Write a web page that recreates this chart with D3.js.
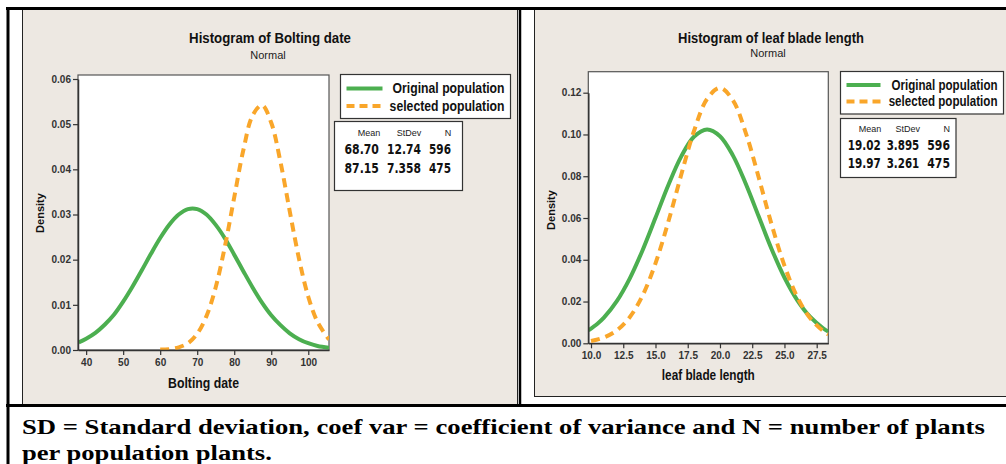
<!DOCTYPE html>
<html><head><meta charset="utf-8">
<script src="https://cdn.jsdelivr.net/npm/d3@7/dist/d3.min.js"></script>
<style>
html,body{margin:0;padding:0;background:#fff;}
svg{display:block;}
text{font-family:"Liberation Sans",Arial,sans-serif;}
</style></head>
<body>
<svg id="chart" width="1006" height="464"></svg>
<script>
// ---------- data ----------
const seriesNames = ["Original population", "selected population"];

// Left chart: Bolting date (density curves)
const boltX = [38,40,42.5,45,47.5,50,52.5,55,57.5,60,62.5,65,67.5,70,72.5,75,77.5,80,82.5,85,87.5,90,92.5,95,97.5,100,102.5,105.6];
const boltOriginal = [0.0017,0.0025,0.0038,0.0056,0.0078,0.0107,0.0140,0.0176,0.0213,0.0248,0.0278,0.0300,0.0312,0.0312,0.0300,0.0277,0.0247,0.0211,0.0174,0.0138,0.0105,0.0077,0.0055,0.0037,0.0024,0.0015,0.0009,0.0005];
const boltSelX = [60,62.5,65,67.5,70,72.5,75,77.5,80,82.5,85,87.5,90,92.5,95,97.5,100,102.5,105.6];
const boltSelected = [0.0001,0.0002,0.0006,0.0015,0.0036,0.0075,0.0139,0.0230,0.0338,0.0444,0.0520,0.0542,0.0503,0.0416,0.0307,0.0202,0.0118,0.0062,0.0023];
const boltXTicks = [40,50,60,70,80,90,100];
const boltYTicks = [0,0.01,0.02,0.03,0.04,0.05,0.06];
const boltStats = [["68.70","12.74","596"],["87.15","7.358","475"]];

// Right chart: leaf blade length
const leafX = [9.8,10.5,11,12,13,14,15,16,17,18,19,20,21,22,23,24,25,26,27,28,28.4];
const leafOriginal = [0.0062,0.0094,0.0123,0.0202,0.0310,0.0446,0.0601,0.0758,0.0895,0.0990,0.1024,0.0992,0.0900,0.0764,0.0608,0.0452,0.0315,0.0206,0.0126,0.0072,0.0056];
const leafSelX = [10,11,12,13,14,15,16,17,18,19,20,21,22,23,24,25,26,27,28,28.4];
const leafSelected = [0.0011,0.0028,0.0062,0.0125,0.0229,0.0383,0.0583,0.0808,0.1019,0.1170,0.1223,0.1164,0.1008,0.0795,0.0570,0.0372,0.0221,0.0120,0.0059,0.0043];
const leafXTicks = [10,12.5,15,17.5,20,22.5,25,27.5];
const leafYTicks = [0,0.02,0.04,0.06,0.08,0.10,0.12];
const leafStats = [["19.02","3.895","596"],["19.97","3.261","475"]];

const statHeaders = ["Mean","StDev","N"];
const footnote1 = "SD = Standard deviation, coef var = coefficient of variance and N = number of plants";
const footnote2 = "per population plants.";

// ---------- styles ----------
const GREEN = "#4caf50", ORANGE = "#f9a62a", BEIGE = "#ede8e2";
const svg = d3.select("#chart");

// place a text at (x,y) and squeeze it horizontally to a target width
function fitText(parent, str, x, y, target, anchor, styler){
  const t = parent.append("text").attr("x",0).attr("y",0).attr("text-anchor",anchor).call(styler).text(str);
  const w = t.node().getComputedTextLength();
  const k = w > 0 ? target / w : 1;
  t.attr("transform",`translate(${x},${y}) scale(${k},1)`);
  return t;
}

// table frame
svg.append("rect").attr("x",0).attr("y",0).attr("width",1006).attr("height",464).attr("fill","#fff");
svg.append("rect").attr("x",22.5).attr("y",9.5).attr("width",495).attr("height",396).attr("fill",BEIGE).attr("stroke","#222").attr("stroke-width",1);
svg.append("rect").attr("x",534.5).attr("y",9.5).attr("width",490).attr("height",387).attr("fill",BEIGE).attr("stroke","#222").attr("stroke-width",1);
const border = svg.append("g").attr("stroke","#000");
border.append("line").attr("x1",6).attr("x2",1006).attr("y1",8.5).attr("y2",8.5).attr("stroke-width",3);
border.append("line").attr("x1",8).attr("x2",8).attr("y1",7).attr("y2",464).attr("stroke-width",3);
border.append("line").attr("x1",520).attr("x2",520).attr("y1",7).attr("y2",406).attr("stroke-width",2.5);
border.append("line").attr("x1",6).attr("x2",1006).attr("y1",405.5).attr("y2",405.5).attr("stroke-width",3);

// footnote
const fnStyle = t => t.style("font-family","'Liberation Serif','Times New Roman',serif").style("font-weight","bold").style("font-size","22px").attr("fill","#000");
fitText(svg, footnote1, 22, 434, 963, "start", fnStyle);
fitText(svg, footnote2, 22, 460, 250, "start", fnStyle);

function drawChart(cfg){
  const g = svg.append("g");
  const x = d3.scaleLinear().domain(cfg.xDomain).range([cfg.left, cfg.right]);
  const y = d3.scaleLinear().domain(cfg.yDomain).range([cfg.bottom, cfg.top0]);
  // plot frame
  g.append("rect").attr("x",cfg.left).attr("y",cfg.frameTop).attr("width",cfg.right-cfg.left).attr("height",cfg.bottom-cfg.frameTop)
    .attr("fill","#fff").attr("stroke","#555").attr("stroke-width",1.2);
  const clipId = "clip"+cfg.id;
  g.append("clipPath").attr("id",clipId).append("rect").attr("x",cfg.left).attr("y",cfg.frameTop).attr("width",cfg.right-cfg.left).attr("height",cfg.bottom-cfg.frameTop);
  const line = d3.line().x(d=>x(d[0])).y(d=>y(d[1])).curve(d3.curveCatmullRom.alpha(0.5));
  const cg = g.append("g").attr("clip-path",`url(#${clipId})`);
  cg.append("path").datum(cfg.xs.map((v,i)=>[v,cfg.orig[i]])).attr("d",line).attr("fill","none")
    .attr("stroke",GREEN).attr("stroke-width",4);
  cg.append("path").datum(cfg.selXs.map((v,i)=>[v,cfg.sel[i]])).attr("d",line).attr("fill","none")
    .attr("stroke",ORANGE).attr("stroke-width",4).attr("stroke-dasharray","9,6");
  // axes
  const ya = d3.axisLeft(y).tickValues(cfg.yTicks).tickFormat(d3.format(".2f")).tickSize(5).tickSizeOuter(0);
  const yg = g.append("g").attr("transform",`translate(${cfg.left},0)`).call(ya);
  const xa = d3.axisBottom(x).tickValues(cfg.xTicks).tickFormat(cfg.xFormat).tickSize(5).tickSizeOuter(0);
  const xg = g.append("g").attr("transform",`translate(0,${cfg.bottom})`).call(xa);
  [yg,xg].forEach(a=>{
    a.select(".domain").attr("stroke","#333").attr("stroke-width",1.5);
    a.selectAll(".tick line").attr("stroke","#333").attr("stroke-width",1.2);
    a.selectAll(".tick text").attr("fill","#333").style("font-size","10px").style("font-family","'Liberation Sans Narrow','Liberation Sans',sans-serif").style("font-weight","bold");
  });
  yg.selectAll(".tick text").attr("x",-7);
  xg.selectAll(".tick text").attr("y",9);
  // titles
  const bold = s => t => t.style("font-weight","bold").style("font-size",s).attr("fill","#111");
  fitText(g, cfg.title, cfg.titleX, 43, cfg.titleW, "middle", bold("15px"));
  g.append("text").attr("x",cfg.subX).attr("y",cfg.subY).attr("text-anchor","middle")
    .style("font-size","11px").attr("fill","#222").text("Normal");
  // axis labels
  fitText(g, cfg.xLabel, (cfg.left+cfg.right)/2, cfg.xLabelY, cfg.xLabelW, "middle", bold("14px"));
  g.append("text").attr("transform",`translate(${cfg.yLabelX},${cfg.yLabelY}) rotate(-90)`).attr("text-anchor","middle")
    .style("font-weight","bold").style("font-size","11px").attr("fill","#111").text("Density");
  // legend
  const L = cfg.legend;
  g.append("rect").attr("x",L.x).attr("y",L.y).attr("width",L.w).attr("height",L.h).attr("fill","#fff").attr("stroke","#333").attr("stroke-width",1.2);
  const colors = [GREEN, ORANGE], dashes = [null,"8,5"];
  seriesNames.forEach((n,i)=>{
    const yy = L.y + L.row0 + i*L.dy;
    g.append("line").attr("x1",L.x+6).attr("x2",L.x+6+L.lineW).attr("y1",yy).attr("y2",yy)
      .attr("stroke",colors[i]).attr("stroke-width",4).attr("stroke-dasharray",dashes[i]);
    fitText(g, n, L.x+L.w-6, yy+4.5, L.tw[i], "end", bold("14px"));
  });
  // stats box
  const S = cfg.stats;
  g.append("rect").attr("x",S.x).attr("y",S.y).attr("width",S.w).attr("height",S.h).attr("fill","#fff").attr("stroke","#333").attr("stroke-width",1.2);
  statHeaders.forEach((h,j)=>{
    g.append("text").attr("x",S.hcols[j]).attr("y",S.y+S.hy).attr("text-anchor","middle")
      .style("font-size","9px").attr("fill","#222").text(h);
  });
  const numStyle = t => t.style("font-family","'DejaVu Sans',Verdana,sans-serif").style("font-size","14px").style("font-weight","bold").attr("fill","#111");
  cfg.statRows.forEach((r,i)=>{
    r.forEach((v,j)=>{
      fitText(g, v, S.cols[j], S.y+S.r0+i*S.dy, S.widths[j], "start", numStyle);
    });
  });
}

drawChart({
  id:"L", xDomain:[37.8,105.6], yDomain:[0,0.06], left:78, right:329, bottom:350, top0:79, frameTop:75,
  xs:boltX, orig:boltOriginal, selXs:boltSelX, sel:boltSelected,
  xTicks:boltXTicks, yTicks:boltYTicks, xFormat:d3.format("d"),
  title:"Histogram of Bolting date", titleX:270, titleW:162, subX:268, subY:59,
  xLabel:"Bolting date", xLabelY:388, xLabelW:71, yLabelX:44, yLabelY:213,
  legend:{x:340.5,y:74.5,w:170,h:44,row0:14,dy:17.5,lineW:36,tw:[112,115]},
  stats:{x:334.5,y:121.5,w:128,h:69,hy:14,r0:32,dy:19,cols:[344.5,387,429],widths:[34.5,34,22],hcols:[369,409,448]},
  statRows:boltStats
});
drawChart({
  id:"R", xDomain:[9.79,28.4], yDomain:[0,0.12], left:588.3, right:828.3, bottom:343.3, top0:92.7, frameTop:71.7,
  xs:leafX, orig:leafOriginal, selXs:leafSelX, sel:leafSelected,
  xTicks:leafXTicks, yTicks:leafYTicks, xFormat:d3.format(".1f"),
  title:"Histogram of leaf blade length", titleX:771, titleW:186, subX:768, subY:57,
  xLabel:"leaf blade length", xLabelY:380, xLabelW:93, yLabelX:555, yLabelY:210,
  legend:{x:840.5,y:71.5,w:163,h:42.5,row0:13.5,dy:16.5,lineW:34,tw:[106,109]},
  stats:{x:840.5,y:118.5,w:115.5,h:59,hy:13,r0:31,dy:18,cols:[847.7,886.7,927.3],widths:[33,32.6,22.7],hcols:[870,907.7,946.7]},
  statRows:leafStats
});
</script>
</body></html>
